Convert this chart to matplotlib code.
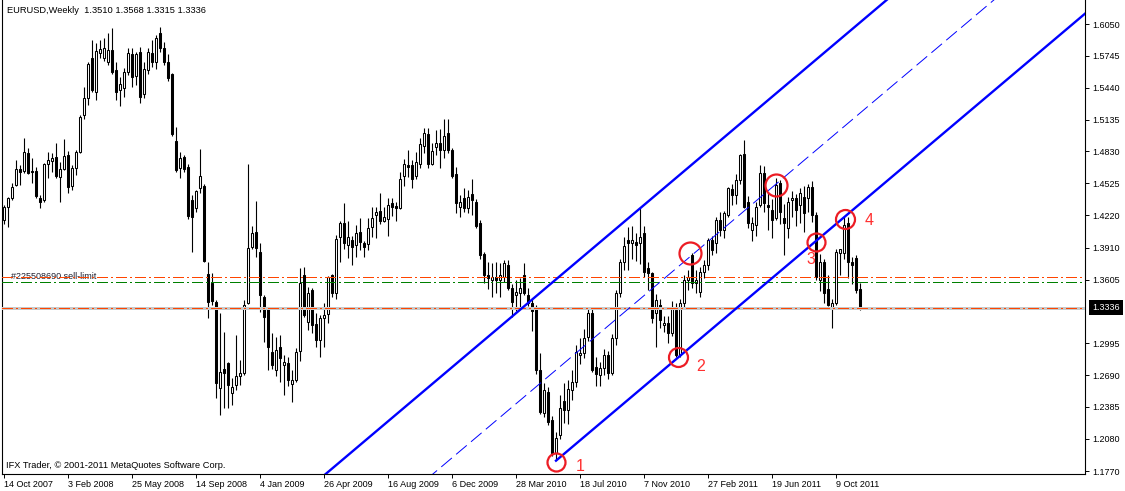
import numpy as np
import matplotlib
matplotlib.use("Agg")
import matplotlib.pyplot as plt
from matplotlib.transforms import blended_transform_factory as btf

plt.rcParams['font.family'] = ['Liberation Sans', 'DejaVu Sans']
plt.rcParams['lines.scale_dashes'] = False

# ---------------- data (EURUSD weekly) ----------------
opens = [
    1.4174, 1.4302, 1.4382, 1.4509, 1.4662, 1.4640, 1.4812, 1.4643, 1.4643, 1.4388,
    1.4363, 1.4707, 1.4739, 1.4777, 1.4589, 1.4662, 1.4796, 1.4503, 1.4669, 1.4828,
    1.5179, 1.5345, 1.5721, 1.5402, 1.5769, 1.5721, 1.5689, 1.5801, 1.5610, 1.5418,
    1.5441, 1.5587, 1.5760, 1.5556, 1.5779, 1.5377, 1.5610, 1.5769, 1.5689, 1.5961,
    1.5823, 1.5683, 1.5568, 1.4930, 1.4675, 1.4777, 1.4685, 1.4366, 1.4286, 1.4477,
    1.4503, 1.3654, 1.3568, 1.3386, 1.2564, 1.2746, 1.2803, 1.2522, 1.2596, 1.2682,
    1.2707, 1.3384, 1.3913, 1.4063, 1.3872, 1.3441, 1.3339, 1.2908, 1.2739, 1.2956,
    1.2787, 1.2803, 1.2605, 1.2644, 1.2924, 1.3648, 1.3202, 1.3505, 1.3180, 1.3026,
    1.3234, 1.3275, 1.3648, 1.3473, 1.4015, 1.4149, 1.3935, 1.3983, 1.3935, 1.4056,
    1.3951, 1.3945, 1.4105, 1.4223, 1.4261, 1.4168, 1.4181, 1.4334, 1.4309, 1.4286,
    1.4596, 1.4701, 1.4701, 1.4596, 1.4711, 1.4883, 1.4998, 1.4711, 1.4876, 1.4908,
    1.4845, 1.5004, 1.4845, 1.4615, 1.4302, 1.4382, 1.4286, 1.4424, 1.4350, 1.4149,
    1.3849, 1.3648, 1.3601, 1.3632, 1.3601, 1.3632, 1.3744, 1.3520, 1.3456, 1.3473,
    1.3648, 1.3456, 1.3380, 1.3345, 1.2738, 1.2324, 1.2531, 1.2260, 1.1941, 1.2117,
    1.2445, 1.2356, 1.2547, 1.2627, 1.2882, 1.2898, 1.3057, 1.3287, 1.2764, 1.2691,
    1.2755, 1.2882, 1.2707, 1.3041, 1.3479, 1.3776, 1.3983, 1.3957, 1.3967, 1.3951,
    1.4047, 1.3712, 1.3664, 1.3282, 1.3361, 1.3170, 1.3186, 1.3090, 1.3314, 1.2883,
    1.3377, 1.3601, 1.3840, 1.3569, 1.3489, 1.3680, 1.3744, 1.3983, 1.3952, 1.4175,
    1.4079, 1.4223, 1.4468, 1.4414, 1.4557, 1.4807, 1.4350, 1.4079, 1.4127, 1.4318,
    1.4621, 1.4318, 1.4270, 1.4191, 1.4532, 1.4191, 1.4095, 1.4366, 1.4382, 1.4318,
    1.4398, 1.4382, 1.4494, 1.4223, 1.3600, 1.3776, 1.3511, 1.3330, 1.3377, 1.3862,
    1.3862, 1.4143, 1.3776, 1.3808, 1.3510,
]
highs = [
    1.4318, 1.4398, 1.4525, 1.4748, 1.4701, 1.4956, 1.4860, 1.4764, 1.4685, 1.4414,
    1.4717, 1.4828, 1.4812, 1.4908, 1.4732, 1.4950, 1.4835, 1.4701, 1.4844, 1.5179,
    1.5450, 1.5689, 1.5897, 1.5865, 1.5897, 1.5913, 1.5961, 1.6008, 1.5689, 1.5546,
    1.5626, 1.5817, 1.5817, 1.5785, 1.5833, 1.5689, 1.5817, 1.5897, 1.5945, 1.6024,
    1.5881, 1.5760, 1.5578, 1.5067, 1.4828, 1.4796, 1.4707, 1.4414, 1.4461, 1.4854,
    1.4516, 1.3769, 1.3664, 1.3409, 1.3281, 1.3106, 1.2819, 1.2660, 1.3074, 1.2835,
    1.3409, 1.4711, 1.4117, 1.4357, 1.3951, 1.3457, 1.3345, 1.3090, 1.3052, 1.3074,
    1.2883, 1.2861, 1.2739, 1.2947, 1.3712, 1.3728, 1.3530, 1.3521, 1.3281, 1.3266,
    1.3384, 1.3639, 1.3658, 1.4031, 1.4168, 1.4334, 1.4168, 1.4022, 1.4127, 1.4191,
    1.3977, 1.4191, 1.4296, 1.4296, 1.4436, 1.4296, 1.4382, 1.4382, 1.4350, 1.4637,
    1.4755, 1.4845, 1.4749, 1.4829, 1.4956, 1.5052, 1.5052, 1.4908, 1.5036, 1.5042,
    1.5138, 1.5138, 1.4861, 1.4685, 1.4414, 1.4478, 1.4462, 1.4564, 1.4373, 1.4175,
    1.3872, 1.3776, 1.3760, 1.3776, 1.3760, 1.3792, 1.3792, 1.3560, 1.3600, 1.3620,
    1.3760, 1.3520, 1.3420, 1.3360, 1.2898, 1.2610, 1.2579, 1.2300, 1.2150, 1.2500,
    1.2610, 1.2640, 1.2740, 1.2980, 1.3050, 1.3131, 1.3330, 1.3330, 1.2860, 1.2820,
    1.2940, 1.2920, 1.3080, 1.3500, 1.3800, 1.4010, 1.4110, 1.4120, 1.4050, 1.4290,
    1.4120, 1.3776, 1.3680, 1.3470, 1.3420, 1.3260, 1.3260, 1.3400, 1.3380, 1.3420,
    1.3650, 1.3700, 1.3862, 1.3700, 1.3720, 1.3790, 1.4000, 1.4020, 1.4200, 1.4250,
    1.4260, 1.4490, 1.4520, 1.4610, 1.4810, 1.4940, 1.4400, 1.4200, 1.4350, 1.4700,
    1.4690, 1.4440, 1.4380, 1.4580, 1.4560, 1.4330, 1.4390, 1.4450, 1.4420, 1.4480,
    1.4500, 1.4520, 1.4550, 1.4250, 1.3850, 1.3800, 1.3650, 1.3420, 1.3900, 1.3900,
    1.4200, 1.4200, 1.3820, 1.3840, 1.3568,
]
lows = [
    1.4133, 1.4110, 1.4366, 1.4503, 1.4509, 1.4621, 1.4611, 1.4525, 1.4388, 1.4292,
    1.4350, 1.4573, 1.4637, 1.4573, 1.4350, 1.4653, 1.4429, 1.4461, 1.4605, 1.4812,
    1.5141, 1.5275, 1.5402, 1.5323, 1.5721, 1.5696, 1.5658, 1.5568, 1.5323, 1.5268,
    1.5355, 1.5562, 1.5450, 1.5466, 1.5291, 1.5339, 1.5568, 1.5642, 1.5619, 1.5785,
    1.5658, 1.5504, 1.4981, 1.4637, 1.4573, 1.4637, 1.4184, 1.3865, 1.4254, 1.4429,
    1.3776, 1.3240, 1.3361, 1.2474, 1.2309, 1.2372, 1.2372, 1.2404, 1.2548, 1.2596,
    1.2691, 1.3371, 1.3894, 1.3824, 1.3297, 1.3010, 1.2739, 1.2746, 1.2682, 1.2628,
    1.2500, 1.2586, 1.2436, 1.2628, 1.2829, 1.3243, 1.3122, 1.3090, 1.2963, 1.2867,
    1.2956, 1.3192, 1.3441, 1.3415, 1.3776, 1.3894, 1.3808, 1.3744, 1.3824, 1.3888,
    1.3817, 1.3888, 1.4009, 1.4000, 1.4136, 1.4159, 1.4022, 1.4213, 1.4168, 1.4277,
    1.4500, 1.4583, 1.4478, 1.4564, 1.4669, 1.4819, 1.4669, 1.4701, 1.4797, 1.4669,
    1.4765, 1.4813, 1.4573, 1.4245, 1.4207, 1.4254, 1.4238, 1.4222, 1.4095, 1.3798,
    1.3575, 1.3511, 1.3441, 1.3479, 1.3441, 1.3585, 1.3505, 1.3249, 1.3300, 1.3330,
    1.3456, 1.3350, 1.3110, 1.2700, 1.2320, 1.2292, 1.2212, 1.1920, 1.1878, 1.2080,
    1.2230, 1.2225, 1.2450, 1.2580, 1.2800, 1.2850, 1.3020, 1.2720, 1.2585, 1.2590,
    1.2690, 1.2650, 1.2690, 1.2980, 1.3440, 1.3700, 1.3700, 1.3800, 1.3780, 1.3750,
    1.3630, 1.3505, 1.3186, 1.2963, 1.3140, 1.3100, 1.3000, 1.3060, 1.2860, 1.2860,
    1.3330, 1.3500, 1.3520, 1.3480, 1.3440, 1.3620, 1.3700, 1.3840, 1.3860, 1.4020,
    1.4000, 1.4200, 1.4320, 1.4330, 1.4520, 1.4290, 1.4100, 1.3970, 1.4020, 1.4300,
    1.4250, 1.4080, 1.4000, 1.4170, 1.4140, 1.3840, 1.4000, 1.4200, 1.4120, 1.4150,
    1.4060, 1.4250, 1.4160, 1.3600, 1.3495, 1.3380, 1.3350, 1.3138, 1.3360, 1.3650,
    1.3800, 1.3620, 1.3560, 1.3480, 1.3315,
]
closes = [
    1.4302, 1.4382, 1.4493, 1.4662, 1.4637, 1.4828, 1.4621, 1.4630, 1.4407, 1.4343,
    1.4707, 1.4745, 1.4771, 1.4599, 1.4662, 1.4784, 1.4493, 1.4669, 1.4828, 1.5163,
    1.5339, 1.5664, 1.5418, 1.5792, 1.5811, 1.5817, 1.5801, 1.5587, 1.5402, 1.5473,
    1.5587, 1.5769, 1.5546, 1.5760, 1.5355, 1.5619, 1.5779, 1.5689, 1.5913, 1.5823,
    1.5689, 1.5530, 1.4994, 1.4653, 1.4764, 1.4662, 1.4216, 1.4206, 1.4455, 1.4599,
    1.3782, 1.3393, 1.3399, 1.2611, 1.2723, 1.2707, 1.2596, 1.2580, 1.2682, 1.2707,
    1.3361, 1.3904, 1.4047, 1.3904, 1.3457, 1.3250, 1.2956, 1.2787, 1.2931, 1.2851,
    1.2819, 1.2644, 1.2644, 1.2915, 1.3575, 1.3266, 1.3479, 1.3170, 1.3026, 1.3234,
    1.3266, 1.3626, 1.3479, 1.3990, 1.4149, 1.3951, 1.4009, 1.3919, 1.4047, 1.3967,
    1.3919, 1.4095, 1.4191, 1.4254, 1.4168, 1.4200, 1.4315, 1.4296, 1.4286, 1.4564,
    1.4711, 1.4679, 1.4564, 1.4733, 1.4902, 1.5004, 1.4711, 1.4838, 1.4915, 1.4845,
    1.4978, 1.4845, 1.4596, 1.4334, 1.4350, 1.4286, 1.4398, 1.4366, 1.4117, 1.3840,
    1.3648, 1.3617, 1.3626, 1.3601, 1.3648, 1.3760, 1.3521, 1.3392, 1.3488, 1.3520,
    1.3473, 1.3380, 1.3300, 1.2738, 1.2340, 1.2547, 1.2244, 1.1941, 1.2085, 1.2372,
    1.2356, 1.2553, 1.2627, 1.2914, 1.2904, 1.3041, 1.3281, 1.2738, 1.2700, 1.2755,
    1.2882, 1.2707, 1.3041, 1.3479, 1.3776, 1.3925, 1.3957, 1.3983, 1.3935, 1.4015,
    1.3680, 1.3664, 1.3234, 1.3409, 1.3218, 1.3186, 1.3090, 1.3345, 1.2883, 1.3377,
    1.3601, 1.3633, 1.3569, 1.3600, 1.3680, 1.3744, 1.3983, 1.3888, 1.4175, 1.4079,
    1.4239, 1.4478, 1.4414, 1.4557, 1.4797, 1.4302, 1.4143, 1.4143, 1.4302, 1.4621,
    1.4334, 1.4302, 1.4175, 1.4510, 1.4255, 1.4143, 1.4350, 1.4382, 1.4270, 1.4430,
    1.4239, 1.4494, 1.4223, 1.3633, 1.3776, 1.3473, 1.3361, 1.3377, 1.3872, 1.3894,
    1.4127, 1.3776, 1.3744, 1.3505, 1.3336,
]

date_labels = ['14 Oct 2007', '3 Feb 2008', '25 May 2008', '14 Sep 2008', '4 Jan 2009',
               '26 Apr 2009', '16 Aug 2009', '6 Dec 2009', '28 Mar 2010', '18 Jul 2010',
               '7 Nov 2010', '27 Feb 2011', '19 Jun 2011', '9 Oct 2011']
date_bars = [0, 16, 32, 48, 64, 80, 96, 112, 128, 144, 160, 176, 192, 208]
price_labels = ['1.6050', '1.5745', '1.5440', '1.5135', '1.4830', '1.4525', '1.4220',
                '1.3910', '1.3605', '1.2995', '1.2690', '1.2385', '1.2080', '1.1770']

last_price = 1.3336
sell_limit = 1.3632
green_level = 1.3581
red_low_level = 1.3330

# channel: base line anchors (bar, price); offsets of the parallel lines
chan_t = [137.9, 210.4]
chan_p = [1.1864, 1.4209]
upper_offset = 0.1735
mid_offset = 0.0868

# marked circles (bar, price, diameter px) and numbered labels
circ_t = [138.1, 168.55, 171.6, 193.1, 203.1, 210.4]
circ_p = [1.1856, 1.2861, 1.3856, 1.4509, 1.3967, 1.4184]
circ_d = [18, 19, 22, 22, 18, 19]
num_text = ['1', '2', '3', '4']
num_t = [144.1, 174.3, 201.8, 216.4]
num_p = [1.1814, 1.2771, 1.3792, 1.4168]

# ---------------- figure ----------------
W, H = 1125, 491
fig = plt.figure(figsize=(W / 100, H / 100), dpi=100)
fig.patch.set_facecolor('white')
ax = fig.add_axes([2 / W, (H - 474) / H, (1085 - 2) / W, 474 / H])
ax.set_facecolor('white')
ax.set_xlim(-0.375, 270.375)
ax.set_ylim(1.17438, 1.62797)

o = np.array(opens); h = np.array(highs); l = np.array(lows); c = np.array(closes)
idx = np.arange(len(c))
up = c >= o

ax.vlines(idx, l, h, color='black', lw=0.8, zorder=2)
ax.bar(idx[up], c[up] - o[up], bottom=o[up], width=0.5, facecolor='white',
       edgecolor='black', linewidth=0.75, zorder=3)
ax.bar(idx[~up], o[~up] - c[~up], bottom=c[~up], width=0.5, facecolor='black',
       edgecolor='black', linewidth=0.75, zorder=3)

# horizontal order / price lines
ax.axhline(last_price, color='#C8C8C8', lw=0.75, zorder=4, antialiased=False)
dd = (7.9, 2.2, 1.4, 2.2)
ax.axhline(sell_limit, color='#FF4500', lw=1.0, dashes=dd, zorder=4.5, antialiased=False)
ax.axhline(green_level, color='#008000', lw=1.0, dashes=dd, zorder=4.5, antialiased=False)
ax.axhline(red_low_level, color='#FF4500', lw=1.0, dashes=dd, zorder=4.5, antialiased=False)
ax.text(9 / 1083, sell_limit, '#225508690 sell-limit', transform=btf(ax.transAxes, ax.transData),
        fontsize=6.5, color='#202030', va='center', ha='left', zorder=3.5)

# channel lines
slope = (chan_p[1] - chan_p[0]) / (chan_t[1] - chan_t[0])
t_far = 300.0
t_early = 40.0
base_far = chan_p[0] + slope * (t_far - chan_t[0])
base_early = chan_p[0] + slope * (t_early - chan_t[0])
ax.plot([chan_t[0], t_far], [chan_p[0], base_far], color='#0000FF', lw=1.7, zorder=5,
        solid_capstyle='butt')
ax.plot([t_early, t_far], [base_early + upper_offset, base_far + upper_offset],
        color='#0000FF', lw=1.7, zorder=5, solid_capstyle='butt')
ax.plot([t_early, t_far], [base_early + mid_offset, base_far + mid_offset],
        color='#0000FF', lw=0.7, dashes=(10, 4), zorder=5)

# circles and numbers
for t, p, d in zip(circ_t, circ_p, circ_d):
    ax.plot([t], [p], marker='o', ms=d * 0.72, mfc='none', mec='#EC1C24', mew=1.6,
            zorder=6, linestyle='none')
for s, t, p in zip(num_text, num_t, num_p):
    ax.text(t, p, s, color='#FF3030', fontsize=11.5, ha='center', va='center', zorder=6)

# axes styling
for side in ['left', 'bottom', 'right']:
    ax.spines[side].set_color('black')
    ax.spines[side].set_linewidth(0.8)
ax.spines['top'].set_visible(False)

ax.yaxis.tick_right()
ax.set_yticks([float(v) for v in price_labels])
ax.set_yticklabels(price_labels)
ax.tick_params(axis='y', direction='out', length=3, width=0.7, pad=2.5, labelsize=6.5,
               colors='black')
ax.set_xticks(date_bars)
ax.set_xticklabels(date_labels, ha='left')
ax.tick_params(axis='x', direction='out', length=3, width=0.7, pad=1.5, labelsize=6.5,
               colors='black')

# current price box
ax.text(1 + 7 / 1083, last_price, '%.4f' % last_price, transform=btf(ax.transAxes, ax.transData),
        fontsize=6.5, color='white', ha='left', va='center', zorder=7, clip_on=False,
        bbox=dict(facecolor='black', edgecolor='none', boxstyle='square,pad=0.35'))

# header and footer texts
fig.text(7 / W, 1 - 10.7 / H,
         'EURUSD,Weekly  %.4f %.4f %.4f %.4f' % (opens[-1], highs[-1], lows[-1], closes[-1]),
         fontsize=6.7, color='black', ha='left', va='center')
fig.text(6 / W, 1 - 466 / H, 'IFX Trader, \u00a9 2001-2011 MetaQuotes Software Corp.',
         fontsize=6.7, color='black', ha='left', va='center')

assert len(opens) == len(highs) == len(lows) == len(closes) == 215
fig.savefig('out.png', dpi=100, facecolor='white')
